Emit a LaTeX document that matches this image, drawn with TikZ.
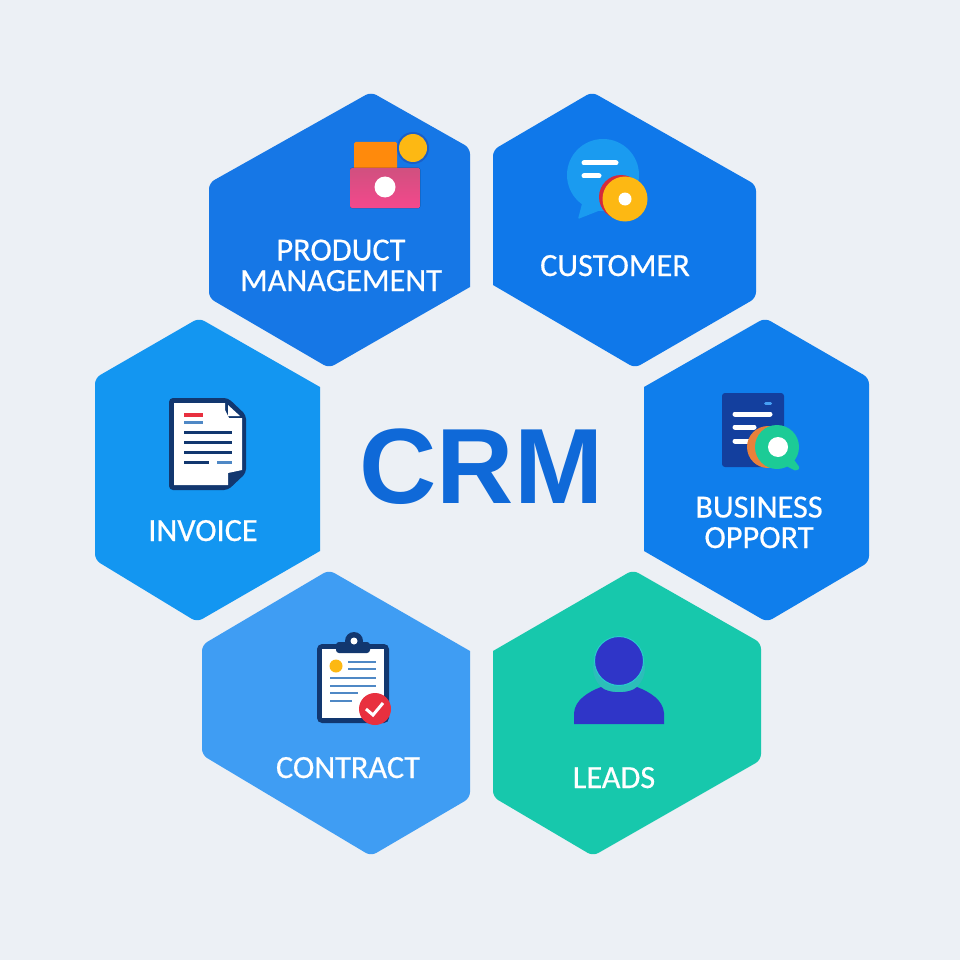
\documentclass[tikz,border=0pt]{standalone}
\usepackage{fontspec}
\newfontfamily\labelfont[FakeBold=0.5]{Carlito}
\newfontfamily\titlefont{Liberation Sans}
\usetikzlibrary{positioning}
\definecolor{pagebg}{HTML}{ECF0F5}
\definecolor{productblue}{HTML}{1677E6}
\definecolor{customerblue}{HTML}{0F78EA}
\definecolor{invoiceblue}{HTML}{1396F1}
\definecolor{businessblue}{HTML}{0F7EEC}
\definecolor{contractblue}{HTML}{3F9DF3}
\definecolor{leadsgreen}{HTML}{17C8AC}
\definecolor{crmblue}{HTML}{0F69D8}
\definecolor{navy}{HTML}{12376F}
\definecolor{sheetline}{HTML}{4F88C5}
\definecolor{folderorange}{HTML}{FF8A0C}
\definecolor{pinktop}{HTML}{D0507F}
\definecolor{pinkbottom}{HTML}{F4488C}
\definecolor{coinyellow}{HTML}{FDB813}
\definecolor{coinring}{HTML}{1A5FC8}
\definecolor{bubbleblue}{HTML}{1A9BF0}
\definecolor{coinred}{HTML}{D42A3C}
\definecolor{markred}{HTML}{E8303F}
\definecolor{docblue}{HTML}{133F9E}
\definecolor{tickblue}{HTML}{46A0F5}
\definecolor{lensorange}{HTML}{E8803A}
\definecolor{lensgreen}{HTML}{1CCB96}
\definecolor{personblue}{HTML}{2F35C8}
\definecolor{collarteal}{HTML}{2CBEB9}
\definecolor{haloteal}{HTML}{28CDCD}
\tikzset{hexface/.style={rounded corners=6pt}}
\tikzset{hexlabel/.style={text=white,anchor=base,align=center,inner sep=0pt,font=\labelfont\fontsize{32.3}{30.5}\selectfont}}
\tikzset{bar/.style={line cap=round,line width=#1},bar/.default=5pt}
\begin{document}
\begin{tikzpicture}[x=1pt,y=-1pt]
\useasboundingbox (0,0) rectangle (960,960);
\fill[pagebg] (0,0) rectangle (960,960);
% hexagons
\fill[hexface,productblue] (371,92) -- (470,148) [sharp corners] -- (470,287) [rounded corners=6pt] -- (329,368) -- (209,298) -- (209,183) -- cycle;
\fill[hexface,customerblue] (592,92) -- (756,185) -- (756,298) -- (635,368) [sharp corners] -- (493,285) [rounded corners=6pt] -- (493,150) -- cycle;
\fill[hexface,invoiceblue] (199,318) [sharp corners] -- (320,387) -- (320,551) [rounded corners=6pt] -- (197,622) -- (95,560) -- (95,378) -- cycle;
\fill[hexface,businessblue] (765,318) -- (869,378) -- (869,562) -- (767,622) [sharp corners] -- (644,551) -- (644,387) [rounded corners=6pt] -- cycle;
\fill[hexface,contractblue] (329,570) [sharp corners] -- (470,651) [rounded corners=6pt] -- (470,798) -- (371,856) -- (202,755) -- (202,645) -- cycle;
\fill[hexface,leadsgreen] (633,570) -- (761,643) -- (761,760) -- (593,856) -- (493,797) [sharp corners] -- (493,651) [rounded corners=6pt] -- cycle;
% title
\node[text=crmblue,inner sep=0pt,anchor=base,font=\titlefont\bfseries\fontsize{107}{107}\selectfont] (crm) at (481.5,503) {CRM};
% labels
\node[hexlabel] (product) at (341,291) {PRODUCT\\MANAGEMENT};
\node[hexlabel] (customer) at (615,276) {CUSTOMER};
\node[hexlabel] (invoice) at (203,541) {INVOICE};
\node[hexlabel] (business) at (759,548) {BUSINESS\\OPPORT};
\node[hexlabel] (contract) at (348,778) {CONTRACT};
\node[hexlabel] (leads) at (614,788) {LEADS};
% product icon
\fill[folderorange,rounded corners=1.5pt] (354,142) rectangle (397,170);
\fill[coinring] (413,148) circle (16);
\fill[coinyellow] (413,148) circle (14);
\fill[rounded corners=1.5pt,top color=pinktop,bottom color=pinkbottom] (350,168) rectangle (420,208);
\fill[white] (385,187) circle (10.5);
% customer icon
\fill[bubbleblue] (603,175) circle (36);
\fill[bubbleblue,rounded corners=1pt] (583,200) -- (578,219) -- (606,208) -- cycle;
\draw[bar,white] (584,163) -- (616,163);
\draw[bar,white] (584,176) -- (599,176);
\fill[coinred] (621,197) circle (22);
\fill[coinyellow] (625,199) circle (22.5);
\fill[white] (625,199) circle (6.5);
% invoice icon
\fill[navy,rounded corners=4pt] (169,398) -- (228,398) -- (246,415) -- (246,473) -- (228,490) -- (169,490) -- cycle;
\fill[white] (174,403) -- (225,403) -- (225,410) -- (229,418) -- (242,418) -- (242,470) -- (228,473) -- (228,485) -- (174,485) -- cycle;
\fill[white] (228,405) -- (240,416) -- (228,416) -- cycle;
\draw[line width=3.5pt,markred] (184,415) -- (203,415);
\draw[line width=3pt,sheetline] (184,422) -- (203,422);
\foreach \y in {432,442,452}{
  \draw[line width=3pt,navy] (184,\y) -- (232,\y);
};
\draw[line width=3pt,navy] (184,462) -- (209,462);
\draw[line width=3pt,sheetline] (217,462) -- (232,462);
% business icon
\fill[docblue,rounded corners=3pt] (722,393) rectangle (784,467);
\draw[line width=3pt,line cap=round,tickblue] (765.5,403.5) -- (770.5,403.5);
\draw[bar,white] (735,414) -- (770,414);
\draw[bar,white] (735,427) -- (754,427);
\draw[bar,white] (735,441) -- (748,441);
\fill[lensorange] (768,447) circle (21);
\fill[lensgreen,rounded corners=1.5pt] (792,457) -- (800,468) -- (796,471) -- (786,466) -- cycle;
\fill[lensgreen] (777,447) circle (22);
\fill[white] (778,447) circle (10);
% contract icon
\fill[navy,rounded corners=5pt] (317,644) rectangle (389,723);
\fill[white] (322,649) rectangle (384,718);
\fill[navy,rounded corners=3pt] (336,642) rectangle (370,653);
\fill[navy] (354,641) circle (9);
\fill[white] (354,641) circle (3.5);
\fill[coinyellow] (336,666) circle (6.5);
\foreach \y in {662,669}{
  \draw[line width=2pt,sheetline] (348,\y) -- (376,\y);
};
\foreach \y in {678,686}{
  \draw[line width=2pt,sheetline] (330,\y) -- (376,\y);
};
\draw[line width=2pt,sheetline] (330,693) -- (358,693);
\draw[line width=2pt,sheetline] (330,701) -- (352,701);
\fill[markred] (375,709) circle (16);
\draw[white,line width=3pt] (366,709) -- (373,715) -- (383,703);
% leads icon
\fill[collarteal] (619,668) circle (26);
\fill[personblue] (574,724) -- (574,713) .. controls (575,700) and (588,692) .. (601,687) .. controls (608,694) and (630,694) .. (637,687) .. controls (650,692) and (663,700) .. (664,713) -- (664,724) -- cycle;
\draw[haloteal,fill=personblue,line width=1pt] (619,661) circle (24.5);
\end{tikzpicture}
\end{document}
